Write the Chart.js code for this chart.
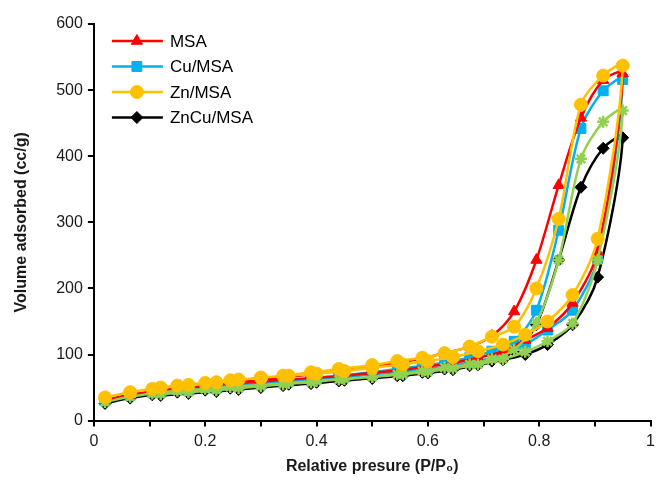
<!DOCTYPE html>
<html>
<head>
<meta charset="utf-8">
<script src="https://cdn.jsdelivr.net/npm/chart.js@4.4.0/dist/chart.umd.min.js"></script>
<style>
  body { margin: 0; background: #fff; }
  #wrap { width: 659px; height: 484px; }
</style>
</head>
<body>
<div id="wrap"><canvas id="isotherm"></canvas></div>
<script>
// relative pressure points, adsorption then desorption branch
const adsP = [0.02, 0.065, 0.105, 0.15, 0.2, 0.245, 0.3, 0.35, 0.4, 0.45, 0.5, 0.555, 0.6, 0.645, 0.69, 0.735, 0.775, 0.815, 0.86, 0.905, 0.95];
const desP = [0.915, 0.875, 0.835, 0.795, 0.755, 0.715, 0.675, 0.63, 0.59, 0.545, 0.5, 0.44, 0.39, 0.34, 0.3, 0.26, 0.22, 0.17, 0.12];

const msaAds = [31, 39, 44, 48, 52, 56, 59, 62, 65, 68, 72, 77, 82, 87, 95, 105, 122, 140, 178, 255, 525];
const msaDes = [515, 458, 356, 243, 165, 128, 112, 102, 94, 88, 82, 76, 70, 65, 61, 58, 54, 50, 46];

const cuAds = [30, 38, 43, 47, 50, 54, 57, 60, 63, 66, 70, 74, 78, 84, 90, 100, 115, 137, 167, 245, 516];
const cuDes = [499, 442, 288, 167, 120, 105, 95, 88, 83, 78, 73, 68, 63, 59, 56, 53, 49, 46, 43];

const znAds = [35, 43, 48, 53, 57, 61, 65, 68, 71, 75, 80, 85, 90, 96, 105, 115, 130, 150, 190, 275, 537];
const znDes = [522, 478, 305, 200, 142, 127, 112, 102, 95, 90, 84, 78, 73, 68, 65, 62, 58, 54, 50];

const znCuAds = [26, 34, 39, 43, 46, 49, 52, 55, 58, 61, 64, 68, 72, 77, 84, 92, 100, 115, 145, 217, 428];
const znCuDes = [412, 353, 243, 145, 105, 90, 83, 78, 73, 68, 64, 60, 56, 53, 50, 47, 44, 41, 38];

// fifth series (green), not in the legend
const extraAds = [28, 36, 41, 45, 48, 51, 54, 57, 60, 63, 66, 70, 74, 79, 85, 93, 104, 120, 147, 243, 469];
const extraDes = [452, 396, 243, 148, 107, 93, 85, 80, 75, 70, 66, 62, 58, 55, 52, 49, 46, 43, 40];

function loop(ads, des) {
    const pts = adsP.map((p, i) => ({x: p, y: ads[i]}));
    return pts.concat(desP.map((p, i) => ({x: p, y: des[i]})));
}

function series(label, ads, des, color, style, r, order) {
    return {
        label: label,
        data: loop(ads, des),
        showLine: true,
        tension: 0.3,
        borderColor: color,
        borderWidth: 2.5,
        pointStyle: style,
        pointRadius: r,
        pointBackgroundColor: color,
        pointBorderColor: color,
        pointBorderWidth: style === 'star' ? 2.5 : 1,
        order: order
    };
}

const datasets = [
    series('MSA', msaAds, msaDes, '#FF0000', 'triangle', 6.5, 2),
    series('Cu/MSA', cuAds, cuDes, '#00B0F0', 'rect', 7, 3),
    series('Zn/MSA', znAds, znDes, '#FFC000', 'circle', 6.5, 0),
    series('ZnCu/MSA', znCuAds, znCuDes, '#000000', 'rectRot', 6, 4),
    series('', extraAds, extraDes, '#92D050', 'star', 6, 1)
];

const legendItems = [0, 1, 2, 3];

// Excel-like legend: line with marker in the middle
const lineLegend = {
    id: 'lineLegend',
    afterDatasetsDraw(chart) {
        const ctx = chart.ctx;
        const left = chart.chartArea.left + 18;
        const top = chart.chartArea.top + 17;
        legendItems.forEach((idx, i) => {
            const ds = chart.data.datasets[idx];
            const y = top + i * 25.5;
            ctx.save();
            ctx.strokeStyle = ds.borderColor;
            ctx.lineWidth = 2.5;
            ctx.beginPath();
            ctx.moveTo(left, y);
            ctx.lineTo(left + 51, y);
            ctx.stroke();
            ctx.fillStyle = ds.pointBackgroundColor;
            ctx.strokeStyle = ds.pointBorderColor;
            ctx.lineWidth = 1;
            Chart.helpers.drawPoint(ctx, {pointStyle: ds.pointStyle, radius: ds.pointRadius, borderWidth: 1, rotation: 0}, left + 25, y);
            ctx.fillStyle = '#000';
            ctx.font = '17px "Liberation Sans", Arial, sans-serif';
            ctx.textBaseline = 'middle';
            ctx.fillText(ds.label, left + 58, y + 1);
            ctx.restore();
        });
    }
};

const ctx = document.getElementById('isotherm').getContext('2d');
Chart.defaults.font.family = '"Liberation Sans", Arial, sans-serif';
Chart.defaults.color = '#1a1a1a';

new Chart(ctx, {
    type: 'scatter',
    data: { datasets: datasets },
    options: {
        responsive: true,
        maintainAspectRatio: false,
        animation: false,
        layout: { padding: { top: 24, right: 4, left: 12, bottom: 4 } },
        scales: {
            x: {
                type: 'linear',
                min: 0,
                max: 1,
                afterFit: (scale) => {
                    scale.paddingRight = 0;
                    if (scale._margins) scale._margins.right = 0;
                },
                border: { color: '#000', width: 2 },
                grid: { drawOnChartArea: false, color: '#000', lineWidth: 2, tickLength: 6 },
                ticks: {
                    stepSize: 0.1,
                    autoSkip: false,
                    maxRotation: 0,
                    font: { size: 16 },
                    padding: 5,
                    callback: (v) => {
                        const n = Math.round(v * 10);
                        return n % 2 === 0 ? String(n / 10) : '';
                    }
                },
                title: {
                    display: true,
                    text: 'Relative presure (P/P₀)',
                    font: { size: 16, weight: 'bold' },
                    padding: { top: 1 }
                }
            },
            y: {
                min: 0,
                max: 600,
                border: { color: '#000', width: 2 },
                grid: { drawOnChartArea: false, color: '#000', lineWidth: 2, tickLength: 6 },
                ticks: { stepSize: 100, font: { size: 16 }, padding: 5 },
                title: {
                    display: true,
                    text: 'Volume adsorbed (cc/g)',
                    font: { size: 16, weight: 'bold' },
                    padding: { top: 0, bottom: 20 }
                }
            }
        },
        plugins: {
            legend: { display: false },
            tooltip: { enabled: false }
        }
    },
    plugins: [lineLegend]
});
</script>
</body>
</html>
